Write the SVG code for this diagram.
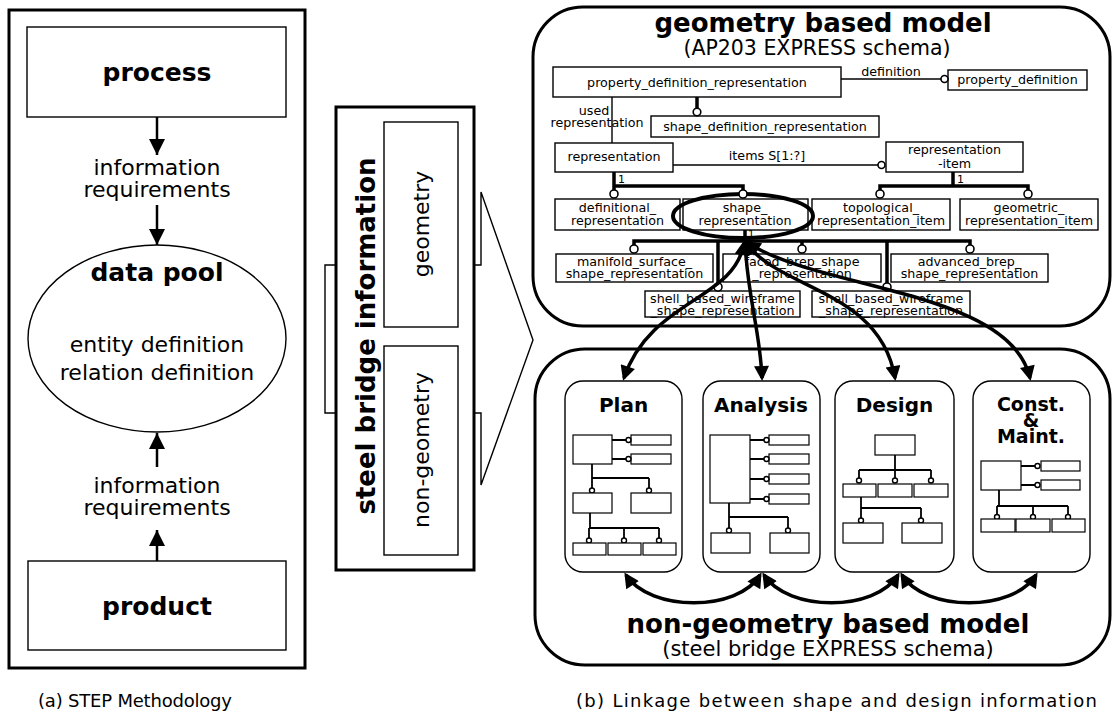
<svg xmlns="http://www.w3.org/2000/svg" width="1117" height="716" viewBox="0 0 1117 716">
<defs>
<style>
text{font-family:"DejaVu Sans","Liberation Sans",sans-serif;fill:#000}
.b{fill:#fff;stroke:#000;stroke-width:1.4}
.bt{fill:none;stroke:#000;stroke-width:3}
.ln{fill:none;stroke:#000;stroke-width:1.4}
.tk{fill:none;stroke:#000;stroke-width:3.5}
.c{fill:#fff;stroke:#000;stroke-width:1.6}
.sl{fill:none;stroke:#000;stroke-width:1.8}
.sb{fill:#fff;stroke:#000;stroke-width:1.2}
.sc{fill:#fff;stroke:#000;stroke-width:1.4}
.e13{font-size:12.7px;text-anchor:middle}
.t22{font-size:22px;text-anchor:middle}
.bold{font-weight:bold;text-anchor:middle}
.arr{fill:none;stroke:#000;stroke-width:3.5}
.la{fill:none;stroke:#000;stroke-width:2.5}
</style>
<marker id="ah" viewBox="0 0 10 10" refX="8" refY="5" markerWidth="18" markerHeight="15" markerUnits="userSpaceOnUse" orient="auto-start-reverse"><path d="M0,0 L10,5 L0,10 z" fill="#000"/></marker>
<marker id="as" viewBox="0 0 10 10" refX="10" refY="5" markerWidth="18" markerHeight="16" markerUnits="userSpaceOnUse" orient="auto"><path d="M0,0 L10,5 L0,10 z" fill="#000"/></marker>
</defs>
<rect width="1117" height="716" fill="#fff"/>

<!-- (a) STEP methodology -->
<g id="panel-a">
<rect x="9" y="10" width="296" height="658" class="bt"/>
</g>
<g id="process"><rect x="27" y="27" width="259" height="90" class="b"/><text x="157" y="81" class="bold" font-size="25">process</text></g>
<g id="req1"><text x="157" y="175" class="t22">information</text><text x="157" y="197" class="t22">requirements</text></g>
<g id="datapool"><ellipse cx="157" cy="338.5" rx="129" ry="93.5" class="b"/><text x="157" y="281" class="bold" font-size="25">data pool</text><text x="157" y="352" class="t22">entity definition</text><text x="157" y="380" class="t22">relation definition</text></g>
<g id="req2"><text x="157" y="493" class="t22">information</text><text x="157" y="515" class="t22">requirements</text></g>
<g id="product"><rect x="28" y="561" width="258" height="89" class="b"/><text x="157" y="615" class="bold" font-size="25">product</text></g>
<g id="connectors-a">
<line x1="157" y1="117" x2="157" y2="155" class="la" marker-end="url(#as)"/>
<line x1="157" y1="205" x2="157" y2="245" class="la" marker-end="url(#as)"/>
<line x1="157" y1="467" x2="157" y2="433" class="la" marker-end="url(#as)"/>
<line x1="157" y1="561" x2="157" y2="530" class="la" marker-end="url(#as)"/>
</g>
<text x="38" y="707" font-size="18" textLength="194">(a) STEP Methodology</text>

<!-- middle: steel bridge information -->
<g id="steel-bridge">
<path d="M337,265 H325 V413 H337" class="ln"/>
<path d="M474,265 H481 V192 L533,340 L481,485 V413 H474" class="ln"/>
<rect x="336" y="107" width="138" height="463" class="bt" fill="#fff"/>
<text transform="translate(375,336) rotate(-90)" class="bold" font-size="26">steel bridge information</text>
</g>
<g id="geometry"><rect x="384" y="122" width="74" height="205" class="b"/><text transform="translate(429,224) rotate(-90)" class="t22">geometry</text></g>
<g id="non-geometry"><rect x="384" y="346" width="74" height="209" class="b"/><text transform="translate(429,450) rotate(-90)" class="t22">non-geometry</text></g>

<!-- geometry based model -->
<g id="geometry-model">
<rect x="533" y="7" width="577" height="319" rx="50" class="bt" fill="#fff"/>
<text x="823" y="32" class="bold" font-size="26">geometry based model</text>
<text x="817" y="55" font-size="20.5" text-anchor="middle">(AP203 EXPRESS schema)</text>
</g>
<g id="e-pdr"><rect x="553" y="67" width="288" height="30" class="b"/><text x="697" y="87" class="e13">property_definition_representation</text></g>
<g id="e-pd"><rect x="948" y="70" width="139" height="20" class="b"/><text x="1017.5" y="84" class="e13">property_definition</text></g>
<g id="e-sdr"><rect x="651" y="116" width="228" height="21" class="b"/><text x="765" y="131" class="e13">shape_definition_representation</text></g>
<g id="e-rep"><rect x="555" y="143" width="118" height="29" class="b"/><text x="614" y="161" class="e13">representation</text></g>
<g id="e-ri"><rect x="886" y="142" width="137" height="30" class="b"/><text x="954.5" y="154" class="e13">representation</text><text x="954.5" y="168" class="e13">-item</text></g>
<g id="e-def"><rect x="555" y="199" width="125" height="31" class="b"/><text x="617.5" y="212" class="e13">definitional_</text><text x="617.5" y="225" class="e13">representation</text></g>
<g id="e-shape"><rect x="683" y="199" width="125" height="31" class="b"/><text x="745" y="212" class="e13">shape_</text><text x="745" y="225" class="e13">representation</text></g>
<g id="e-topo"><rect x="812" y="199" width="138" height="31" class="b"/><text x="881" y="212" class="e13">topological_</text><text x="881" y="225" class="e13">representation_item</text></g>
<g id="e-geo"><rect x="960" y="199" width="138" height="31" class="b"/><text x="1029" y="212" class="e13">geometric_</text><text x="1029" y="225" class="e13">representation_item</text></g>
<g id="e-mani"><rect x="556" y="254" width="157" height="28" class="b"/><text x="634.5" y="266" class="e13">manifold_surface_</text><text x="634.5" y="278" class="e13">shape_representation</text></g>
<g id="e-faced"><rect x="723" y="254" width="158" height="28" class="b"/><text x="802" y="266" class="e13">faced_brep_shape</text><text x="802" y="278" class="e13">_representation</text></g>
<g id="e-adv"><rect x="891" y="254" width="157" height="28" class="b"/><text x="969.5" y="266" class="e13">advanced_brep_</text><text x="969.5" y="278" class="e13">shape_representation</text></g>
<g id="e-shell1"><rect x="645" y="291" width="155" height="26" class="b"/><text x="722.5" y="303" class="e13">shell_based_wireframe</text><text x="722.5" y="315" class="e13">_shape_representation</text></g>
<g id="e-shell2"><rect x="812" y="291" width="158" height="26" class="b"/><text x="891" y="303" class="e13">shell_based_wireframe</text><text x="891" y="315" class="e13">_shape_representation</text></g>
<g id="highlight"><ellipse cx="743" cy="216" rx="70" ry="22" fill="none" stroke="#000" stroke-width="4"/></g>

<g id="connectors-geometry">
<line x1="612" y1="97" x2="612" y2="143" class="ln"/>
<text x="594" y="115" class="e13">used</text>
<text x="597" y="127" class="e13">representation</text>
<line x1="841" y1="79" x2="941" y2="79" class="ln"/>
<circle cx="944.5" cy="79" r="3.5" class="c"/>
<text x="891" y="76" class="e13">definition</text>
<line x1="697" y1="97" x2="697" y2="108.5" class="tk"/>
<circle cx="697" cy="112" r="3.8" class="c"/>
<line x1="673" y1="165" x2="878" y2="165" class="ln"/>
<circle cx="881.5" cy="165" r="3.5" class="c"/>
<text x="767" y="160" class="e13">items S[1:?]</text>
<path d="M614,172 V190 M612.25,186 H744.75 M743,186 V190" class="tk"/>
<circle cx="614" cy="194" r="4" class="c"/><circle cx="743" cy="194" r="4" class="c"/>
<text x="618" y="183" font-size="11">1</text>
<path d="M953,172 V186 M878.25,186 H1029.75 M880,186 V190 M1028,186 V190" class="tk"/>
<circle cx="880" cy="194" r="4" class="c"/><circle cx="1028" cy="194" r="4" class="c"/>
<text x="957" y="183" font-size="11">1</text>
<path d="M745,230 V241 M632.25,241 H971.75 M634,241 V245 M802,241 V245 M970,241 V245 M718,241 V283 M887,241 V283" class="tk"/>
<circle cx="634" cy="249" r="4" class="c"/><circle cx="802" cy="249" r="4" class="c"/><circle cx="970" cy="249" r="4" class="c"/>
<circle cx="718" cy="287" r="4" class="c"/><circle cx="887" cy="287" r="4" class="c"/>
<text x="748" y="238" font-size="10">1</text>
</g>

<!-- non-geometry based model -->
<g id="nongeometry-model">
<rect x="535" y="349" width="575" height="316" rx="50" class="bt" fill="#fff"/>
<text x="828" y="633" class="bold" font-size="26">non-geometry based model</text>
<text x="828" y="656" font-size="21" text-anchor="middle">(steel bridge EXPRESS schema)</text>
</g>

<g id="plan">
<rect x="565" y="381" width="117" height="191" rx="18" class="b" stroke-width="1.6"/>
<text x="623.5" y="412" class="bold" font-size="20">Plan</text>
<rect x="573" y="435" width="39" height="29" class="sb"/>
<rect x="631" y="435" width="40" height="10" class="sb"/>
<rect x="631" y="454" width="40" height="10" class="sb"/>
<path d="M612,440 H626 M612,459 H626 M592,464 V478 M592,478 H649 M592,478 V488 M649,478 V488" class="sl"/>
<circle cx="628.5" cy="440" r="2.5" class="sc"/><circle cx="628.5" cy="459" r="2.5" class="sc"/>
<circle cx="592" cy="490.5" r="2.5" class="sc"/><circle cx="649" cy="490.5" r="2.5" class="sc"/>
<rect x="573" y="493" width="39" height="20" class="sb"/>
<rect x="631" y="493" width="40" height="20" class="sb"/>
<path d="M590,513 V528 M589,528 H659 M589,528 V538 M624,528 V538 M659,528 V538" class="sl"/>
<circle cx="589" cy="540.5" r="2.5" class="sc"/><circle cx="624" cy="540.5" r="2.5" class="sc"/><circle cx="659" cy="540.5" r="2.5" class="sc"/>
<rect x="573" y="543" width="33" height="12" class="sb"/>
<rect x="608" y="543" width="33" height="12" class="sb"/>
<rect x="643" y="543" width="33" height="12" class="sb"/>
</g>

<g id="analysis">
<rect x="703" y="381" width="117" height="191" rx="18" class="b" stroke-width="1.6"/>
<text x="761" y="412" class="bold" font-size="20">Analysis</text>
<rect x="710" y="435" width="40" height="68" class="sb"/>
<rect x="769" y="435" width="40" height="10" class="sb"/>
<rect x="769" y="454" width="40" height="10" class="sb"/>
<rect x="769" y="474" width="40" height="10" class="sb"/>
<rect x="769" y="494" width="40" height="10" class="sb"/>
<path d="M750,440 H764 M750,459 H764 M750,479 H764 M750,499 H764 M729,503 V517 M729,517 H788 M729,517 V528 M788,517 V528" class="sl"/>
<circle cx="766.5" cy="440" r="2.5" class="sc"/><circle cx="766.5" cy="459" r="2.5" class="sc"/><circle cx="766.5" cy="479" r="2.5" class="sc"/><circle cx="766.5" cy="499" r="2.5" class="sc"/>
<circle cx="729" cy="530.5" r="2.5" class="sc"/><circle cx="788" cy="530.5" r="2.5" class="sc"/>
<rect x="711" y="533" width="39" height="20" class="sb"/>
<rect x="770" y="533" width="39" height="20" class="sb"/>
</g>

<g id="design">
<rect x="835" y="381" width="119" height="191" rx="18" class="b" stroke-width="1.6"/>
<text x="894.5" y="412" class="bold" font-size="20">Design</text>
<rect x="875" y="435" width="40" height="20" class="sb"/>
<path d="M895,455 V470 M859,470 H931 M859,470 V478 M895,470 V478 M931,470 V478" class="sl"/>
<circle cx="859" cy="480.5" r="2.5" class="sc"/><circle cx="895" cy="480.5" r="2.5" class="sc"/><circle cx="931" cy="480.5" r="2.5" class="sc"/>
<rect x="843" y="484" width="33" height="13" class="sb"/>
<rect x="878" y="484" width="34" height="13" class="sb"/>
<rect x="914" y="484" width="34" height="13" class="sb"/>
<path d="M861,497 V508 M861,508 H921 M861,508 V518 M921,508 V518" class="sl"/>
<circle cx="861" cy="520.5" r="2.5" class="sc"/><circle cx="921" cy="520.5" r="2.5" class="sc"/>
<rect x="843" y="523" width="40" height="20" class="sb"/>
<rect x="902" y="523" width="40" height="20" class="sb"/>
</g>

<g id="const">
<rect x="973" y="381" width="117" height="191" rx="18" class="b" stroke-width="1.6"/>
<text x="1031" y="411" class="bold" font-size="19">Const.</text>
<text x="1031" y="427" class="bold" font-size="19">&amp;</text>
<text x="1031" y="443" class="bold" font-size="19">Maint.</text>
<rect x="981" y="461" width="40" height="29" class="sb"/>
<rect x="1041" y="461" width="39" height="10" class="sb"/>
<rect x="1041" y="480" width="39" height="10" class="sb"/>
<path d="M1021,466 H1035 M1021,485 H1035 M999,490 V506 M997,506 H1068 M997,506 V515 M1033,506 V515 M1068,506 V515" class="sl"/>
<circle cx="1037.5" cy="466" r="2.5" class="sc"/><circle cx="1037.5" cy="485" r="2.5" class="sc"/>
<circle cx="997" cy="517" r="2.5" class="sc"/><circle cx="1033" cy="517" r="2.5" class="sc"/><circle cx="1068" cy="517" r="2.5" class="sc"/>
<rect x="981" y="519" width="34" height="13" class="sb"/>
<rect x="1016" y="519" width="34" height="13" class="sb"/>
<rect x="1052" y="519" width="33" height="13" class="sb"/>
</g>

<g id="connectors-linkage">
<path d="M744,243 C735,300 650,300 624,378" class="arr" marker-start="url(#ah)" marker-end="url(#ah)"/>
<path d="M745,243 C748,300 760,330 762,378" class="arr" marker-start="url(#ah)" marker-end="url(#ah)"/>
<path d="M746,243 C780,290 880,290 895,378" class="arr" marker-start="url(#ah)" marker-end="url(#ah)"/>
<path d="M748,243 C820,290 1010,290 1030,378" class="arr" marker-start="url(#ah)" marker-end="url(#ah)"/>
<path d="M626,575 C650,612 738,612 760,575" class="arr" marker-start="url(#ah)" marker-end="url(#ah)"/>
<path d="M764,575 C788,612 875,612 898,575" class="arr" marker-start="url(#ah)" marker-end="url(#ah)"/>
<path d="M902,575 C925,612 1013,612 1036,575" class="arr" marker-start="url(#ah)" marker-end="url(#ah)"/>
</g>

<text x="576" y="707" font-size="18" textLength="521">(b) Linkage between shape and design information</text>
</svg>
